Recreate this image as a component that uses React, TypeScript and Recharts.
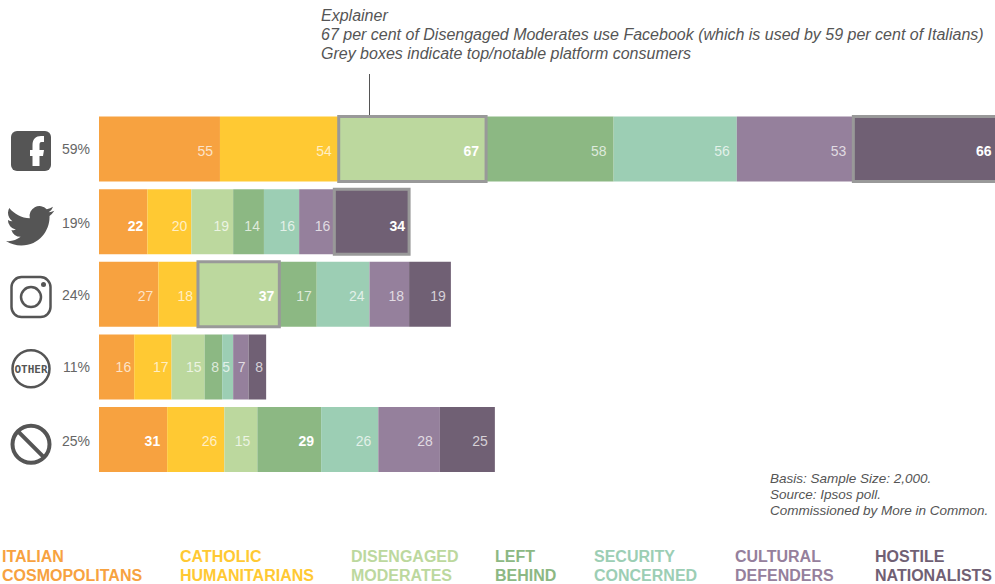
import React from 'react';
import { BarChart, Bar, XAxis, YAxis, LabelList } from 'recharts';

const platforms = ['Facebook', 'Twitter', 'Instagram', 'Other', 'None'];
const platformShare = ['59%', '19%', '24%', '11%', '25%'];

const italianCosmopolitans = [55, 22, 27, 16, 31];
const catholicHumanitarians = [54, 20, 18, 17, 26];
const disengagedModerates = [67, 19, 37, 15, 15];
const leftBehind = [58, 14, 17, 8, 29];
const securityConcerned = [56, 16, 24, 5, 26];
const culturalDefenders = [53, 16, 18, 7, 28];
const hostileNationalists = [66, 34, 19, 8, 25];

// grey outlined boxes, [platform index, series key]
const topConsumers = [
    [0, 'disengaged'],
    [0, 'hostile'],
    [1, 'hostile'],
    [2, 'disengaged'],
];
// bold labels without a box
const boldExtras = [
    [1, 'italian'],
    [4, 'italian'],
    [4, 'left'],
];

const segments = [
    { key: 'italian', color: '#F7A240', lines: ['ITALIAN', 'COSMOPOLITANS'], legendX: 2, values: italianCosmopolitans },
    { key: 'catholic', color: '#FFC933', lines: ['CATHOLIC', 'HUMANITARIANS'], legendX: 180, values: catholicHumanitarians },
    { key: 'disengaged', color: '#BCD89E', lines: ['DISENGAGED', 'MODERATES'], legendX: 351, values: disengagedModerates },
    { key: 'left', color: '#8CB883', lines: ['LEFT', 'BEHIND'], legendX: 495, values: leftBehind },
    { key: 'security', color: '#9CCEB4', lines: ['SECURITY', 'CONCERNED'], legendX: 594, values: securityConcerned },
    { key: 'cultural', color: '#95809C', lines: ['CULTURAL', 'DEFENDERS'], legendX: 735, values: culturalDefenders },
    { key: 'hostile', color: '#706074', lines: ['HOSTILE', 'NATIONALISTS'], legendX: 875, values: hostileNationalists },
];

// overlay stack: gap, box, gap, box per platform, so the outlines sit on top of the segments
const data = platforms.map((name, i) => {
    const row: any = { name, share: platformShare[i] };
    let gap = 0;
    let boxNo = 0;
    row.gap1 = 0; row.box1 = 0; row.gap2 = 0; row.box2 = 0;
    segments.forEach(s => {
        const v = s.values[i];
        row[s.key] = v;
        if (topConsumers.some(t => t[0] === i && t[1] === s.key)) {
            boxNo += 1;
            row['gap' + boxNo] = gap;
            row['box' + boxNo] = v;
            gap = 0;
        } else {
            gap += v;
        }
    });
    return row;
});

// small per-row text nudges, the source artwork is not quite regular
const labelPad = [7, 4, 5, 3, 7];
const labelNudge = [1, 3, 1, -1, 0];
const shareNudge = [1, 2, 2, 1, 3];
const ICON = '#555555';

function PlatformIcon({ name, y }: { name: string; y: number }) {
    if (name === 'Facebook') {
        return (
            <g transform={`translate(31 ${y + 2})`}>
                <rect x={-20} y={-20} width={40} height={40} rx={6} fill={ICON} />
                <path d="M1.5 15 V5 H-1 V-1 H1.5 V-6 C1.5 -12 5 -15 10 -15 H13 V-9 H10.5 C9 -9 8.5 -8 8.5 -6 V-1 H13 L12 5 H8.5 V15 Z" fill="#fff" />
            </g>
        );
    }
    if (name === 'Twitter') {
        return (
            <g transform={`translate(6 ${y - 20}) scale(2.02)`}>
                <path d="M23.95 4.57a10 10 0 0 1-2.82.77 4.96 4.96 0 0 0 2.16-2.72c-.95.55-2 .95-3.12 1.18a4.92 4.92 0 0 0-8.38 4.48C7.69 8.09 4.07 6.13 1.64 3.16a4.82 4.82 0 0 0-.66 2.47c0 1.71.87 3.21 2.19 4.1a4.9 4.9 0 0 1-2.23-.61v.06a4.92 4.92 0 0 0 3.95 4.83 4.9 4.9 0 0 1-2.22.08 4.94 4.94 0 0 0 4.6 3.42A9.87 9.87 0 0 1 0 19.54a13.94 13.94 0 0 0 7.55 2.21c9.05 0 14-7.5 14-13.98 0-.21 0-.42-.01-.63a10 10 0 0 0 2.41-2.55z" fill={ICON} />
            </g>
        );
    }
    if (name === 'Instagram') {
        return (
            <g transform={`translate(31 ${y + 3})`} fill="none" stroke={ICON}>
                <rect x={-19.5} y={-20} width={39} height={40} rx={10} strokeWidth={2.5} />
                <circle cx={0} cy={0} r={10} strokeWidth={2.5} />
                <circle cx={12.5} cy={-12.5} r={2.5} fill={ICON} stroke="none" />
            </g>
        );
    }
    if (name === 'Other') {
        return (
            <g transform={`translate(31 ${y + 2})`}>
                <circle r={18.5} fill="none" stroke={ICON} strokeWidth={2.5} />
                <text x={0} y={4} textAnchor="middle" fontFamily="'DejaVu Sans Mono', monospace" fontWeight="bold" fontSize={11} fill={ICON}>OTHER</text>
            </g>
        );
    }
    return (
        <g transform={`translate(31 ${y + 5})`} fill="none" stroke={ICON} strokeWidth={4}>
            <circle r={18.5} />
            <line x1={-13} y1={-13} x2={13} y2={13} />
        </g>
    );
}

function PlatformTick(props: any) {
    const { y, payload, index } = props;
    return (
        <g>
            <PlatformIcon name={payload.value} y={y} />
            <text x={90} y={y + 4 + shareNudge[index]} textAnchor="end" fontSize={14} fill="#666" fontFamily="'Liberation Sans', sans-serif">
                {platformShare[index]}
            </text>
        </g>
    );
}

function valueLabel(key: string) {
    return (props: any) => {
        const { x, y, width, height, value, index } = props;
        const strong = [...topConsumers, ...boldExtras].some(t => t[0] === index && t[1] === key);
        return (
            <text
                x={x + width - labelPad[index]}
                y={y + height / 2 + 6 + labelNudge[index]}
                textAnchor="end"
                fontSize={14}
                fontWeight={strong ? 'bold' : 'normal'}
                fill="#fff"
                fillOpacity={strong ? 1 : 0.72}
                fontFamily="'Liberation Sans', sans-serif"
            >
                {value}
            </text>
        );
    };
}

const noteStyle: React.CSSProperties = {
    position: 'absolute',
    fontFamily: "'Liberation Sans', sans-serif",
    fontStyle: 'italic',
    color: '#555',
    whiteSpace: 'nowrap',
};

export default function App() {
    return (
        <div style={{ position: 'absolute', left: 0, top: 0, width: 995, height: 584, overflow: 'hidden', background: '#fff' }}>
            <div style={{ ...noteStyle, left: 321, top: 6, fontSize: 16, lineHeight: '19px' }}>
                <div>Explainer</div>
                <div>67 per cent of Disengaged Moderates use Facebook (which is used by 59 per cent of Italians)</div>
                <div>Grey boxes indicate top/notable platform consumers</div>
            </div>
            <div style={{ position: 'absolute', left: 369, top: 74, width: 1, height: 42, background: '#555' }} />

            <BarChart
                width={1015}
                height={584}
                layout="vertical"
                data={data}
                margin={{ top: 112.6, right: 0, bottom: 108.4, left: 0 }}
                style={{ position: 'absolute', left: 0, top: 0 }}
            >
                <XAxis type="number" domain={[0, 416.5]} hide />
                <YAxis
                    type="category"
                    dataKey="name"
                    width={99}
                    axisLine={false}
                    tickLine={false}
                    interval={0}
                    tick={<PlatformTick />}
                />
                <YAxis yAxisId="boxes" type="category" dataKey="name" hide />
                {segments.map(s => (
                    <Bar key={s.key} dataKey={s.key} stackId="share" fill={s.color} barSize={65} isAnimationActive={false}>
                        <LabelList dataKey={s.key} content={valueLabel(s.key)} />
                    </Bar>
                ))}
                <Bar yAxisId="boxes" dataKey="gap1" stackId="boxes" fill="none" barSize={65} isAnimationActive={false} />
                <Bar yAxisId="boxes" dataKey="box1" stackId="boxes" fill="none" stroke="#999" strokeWidth={3} barSize={65} isAnimationActive={false} />
                <Bar yAxisId="boxes" dataKey="gap2" stackId="boxes" fill="none" barSize={65} isAnimationActive={false} />
                <Bar yAxisId="boxes" dataKey="box2" stackId="boxes" fill="none" stroke="#999" strokeWidth={3} barSize={65} isAnimationActive={false} />
            </BarChart>

            <div style={{ ...noteStyle, left: 770, top: 471, fontSize: 13.5, lineHeight: '16px' }}>
                <div>Basis: Sample Size: 2,000.</div>
                <div>Source: Ipsos poll.</div>
                <div>Commissioned by More in Common.</div>
            </div>

            {segments.map(s => (
                <div
                    key={s.key}
                    style={{
                        position: 'absolute',
                        left: s.legendX,
                        top: 547,
                        color: s.color,
                        fontFamily: "'Liberation Sans', sans-serif",
                        fontWeight: 'bold',
                        fontSize: 16,
                        lineHeight: '19px',
                        whiteSpace: 'nowrap',
                    }}
                >
                    {s.lines.map(l => <div key={l}>{l}</div>)}
                </div>
            ))}
        </div>
    );
}
